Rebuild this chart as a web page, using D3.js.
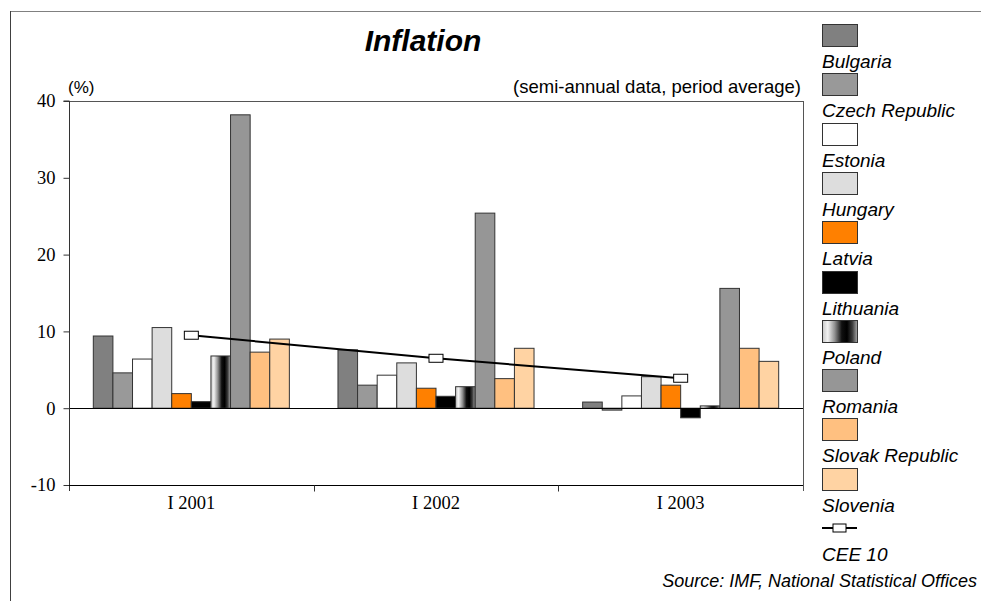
<!DOCTYPE html>
<html><head><meta charset="utf-8">
<script src="https://cdn.jsdelivr.net/npm/d3@7"></script>
<style>
html,body{margin:0;padding:0;background:#fff;}
svg{display:block;}
</style></head>
<body>
<svg id="chart" width="981" height="601"></svg>
<script>
// ---- data ----
const categories = ["I 2001", "I 2002", "I 2003"];
const countries = ["Bulgaria", "Czech Republic", "Estonia", "Hungary", "Latvia", "Lithuania", "Poland", "Romania", "Slovak Republic", "Slovenia"];
const bulgaria = [9.4, 7.6, 0.8];
const czechRepublic = [4.6, 3.0, -0.25];
const estonia = [6.4, 4.3, 1.6];
const hungary = [10.5, 5.9, 4.1];
const latvia = [1.9, 2.6, 3.0];
const lithuania = [0.85, 1.55, -1.25];
const poland = [6.8, 2.8, 0.3];
const romania = [38.2, 25.4, 15.6];
const slovakRepublic = [7.3, 3.85, 7.8];
const slovenia = [9.0, 7.8, 6.1];
const cee10 = [9.5, 6.5, 3.9];
const yTicks = [-10, 0, 10, 20, 30, 40];
const lineLabel = "CEE 10";

const seriesValues = [bulgaria, czechRepublic, estonia, hungary, latvia, lithuania, poland, romania, slovakRepublic, slovenia];
const fills = ["#808080", "#999999", "#ffffff", "#dddddd", "#ff8000", "#000000", "url(#lithGrad)", "#969696", "#ffc080", "#ffd3a3"];

const svg = d3.select("#chart");
const defs = svg.append("defs");
const grad = defs.append("linearGradient").attr("id", "lithGrad").attr("x1", "0").attr("x2", "1").attr("y1", "0").attr("y2", "0");
[[0, "#c8c8c8"], [0.15, "#f2f2f2"], [0.35, "#909090"], [0.55, "#101010"], [0.7, "#000000"], [0.85, "#3a3a3a"], [1, "#a8a8a8"]]
  .forEach(([o, c]) => grad.append("stop").attr("offset", o).attr("stop-color", c));

const L = 69, R = 803, T = 101, B = 485;

// outer frame
svg.append("line").attr("x1", 10).attr("x2", 981).attr("y1", 11.5).attr("y2", 11.5).attr("stroke", "#808080").attr("stroke-width", 1);
svg.append("line").attr("x1", 10.5).attr("x2", 10.5).attr("y1", 11).attr("y2", 601).attr("stroke", "#404040").attr("stroke-width", 1);

const x0 = d3.scaleBand().domain(categories).range([L, R]).paddingInner(0).paddingOuter(0);
const x1 = d3.scaleBand().domain(countries).range([0, x0.bandwidth()]).paddingInner(0).paddingOuter(1.24);
const y = d3.scaleLinear().domain([-10, 40]).range([B, T]);

// plot box top/right
svg.append("line").attr("x1", L).attr("x2", R).attr("y1", T + 0.5).attr("y2", T + 0.5).attr("stroke", "#555");
svg.append("line").attr("x1", R + 0.5).attr("x2", R + 0.5).attr("y1", T).attr("y2", B + 6).attr("stroke", "#555");

// bars
const gBars = svg.append("g");
categories.forEach((cat, ci) => {
  countries.forEach((c, si) => {
    const v = seriesValues[si][ci];
    gBars.append("rect")
      .attr("x", x0(cat) + x1(c))
      .attr("width", x1.bandwidth())
      .attr("y", y(Math.max(0, v)))
      .attr("height", Math.abs(y(v) - y(0)))
      .attr("fill", fills[si])
      .attr("stroke", "#333")
      .attr("stroke-width", 1);
  });
});

// zero line
svg.append("line").attr("x1", L).attr("x2", R).attr("y1", Math.round(y(0)) + 0.5).attr("y2", Math.round(y(0)) + 0.5).attr("stroke", "#000");

// y axis
const serif = "'Liberation Serif', 'Times New Roman', serif";
const yAxis = d3.axisLeft(y).tickValues(yTicks).tickSize(6).tickPadding(8).tickFormat(d => String(d));
const gy = svg.append("g").attr("transform", `translate(${L + 0.5},0)`).call(yAxis);
gy.select(".domain").attr("d", `M-6,${T}H0V${B + 6}`).attr("stroke", "#333");
gy.selectAll(".tick line").attr("stroke", "#333");
gy.selectAll("text").attr("font-family", serif).attr("font-size", 18.5).attr("fill", "#000");

// x axis at bottom
const xAxis = d3.axisBottom(x0).tickSize(0).tickPadding(10);
const gx = svg.append("g").attr("transform", `translate(0,${B + 0.5})`).call(xAxis);
gx.select(".domain").attr("d", `M${L},0H${R}`).attr("stroke", "#000");
gx.selectAll("text").attr("font-family", serif).attr("font-size", 18.5).attr("fill", "#000");
// category boundary ticks
categories.slice(1).forEach(cat => {
  gx.append("line").attr("x1", Math.round(x0(cat)) + 0.5).attr("x2", Math.round(x0(cat)) + 0.5).attr("y1", 0).attr("y2", 6).attr("stroke", "#333");
});

// CEE 10 line
const cx = d => x0(d) + x0.bandwidth() / 2;
const lineGen = d3.line().x((d, i) => cx(categories[i])).y(d => y(d));
svg.append("path").datum(cee10).attr("d", lineGen).attr("fill", "none").attr("stroke", "#000").attr("stroke-width", 2);
svg.selectAll(".mk").data(cee10).enter().append("rect")
  .attr("x", (d, i) => cx(categories[i]) - 7).attr("y", d => y(d) - 4)
  .attr("width", 14).attr("height", 8).attr("fill", "#fff").attr("stroke", "#000").attr("stroke-width", 1);

// titles
const sans = "'Liberation Sans', Arial, Helvetica, sans-serif";
svg.append("text").attr("x", 423).attr("y", 51).attr("text-anchor", "middle")
  .attr("font-family", sans).attr("font-size", 30).attr("font-weight", "bold").attr("font-style", "italic").text("Inflation");
svg.append("text").attr("x", 68).attr("y", 93).attr("font-family", sans).attr("font-size", 17).text("(%)");
svg.append("text").attr("x", 801).attr("y", 93).attr("text-anchor", "end").attr("font-family", sans).attr("font-size", 18.5).text("(semi-annual data, period average)");
svg.append("text").attr("x", 977).attr("y", 587).attr("text-anchor", "end").attr("font-family", sans).attr("font-size", 18).attr("font-style", "italic").text("Source: IMF, National Statistical Offices");

// legend
const lg = svg.append("g");
const step = 49.3, top0 = 24, lx = 822;
countries.forEach((c, i) => {
  const t = top0 + step * i;
  lg.append("rect").attr("x", lx + 0.5).attr("y", Math.round(t) + 0.5).attr("width", 35).attr("height", 22)
    .attr("fill", fills[i]).attr("stroke", "#333");
  lg.append("text").attr("x", lx).attr("y", t + 44).attr("font-family", sans).attr("font-size", 19).attr("font-style", "italic").text(c);
});
{
  const t = top0 + step * countries.length;
  lg.append("line").attr("x1", lx).attr("x2", lx + 35).attr("y1", t + 11).attr("y2", t + 11).attr("stroke", "#000").attr("stroke-width", 2);
  lg.append("rect").attr("x", lx + 11).attr("y", t + 7).attr("width", 13).attr("height", 8).attr("fill", "#fff").attr("stroke", "#000");
  lg.append("text").attr("x", lx).attr("y", t + 44).attr("font-family", sans).attr("font-size", 19).attr("font-style", "italic").text(lineLabel);
}
</script>
</body></html>
